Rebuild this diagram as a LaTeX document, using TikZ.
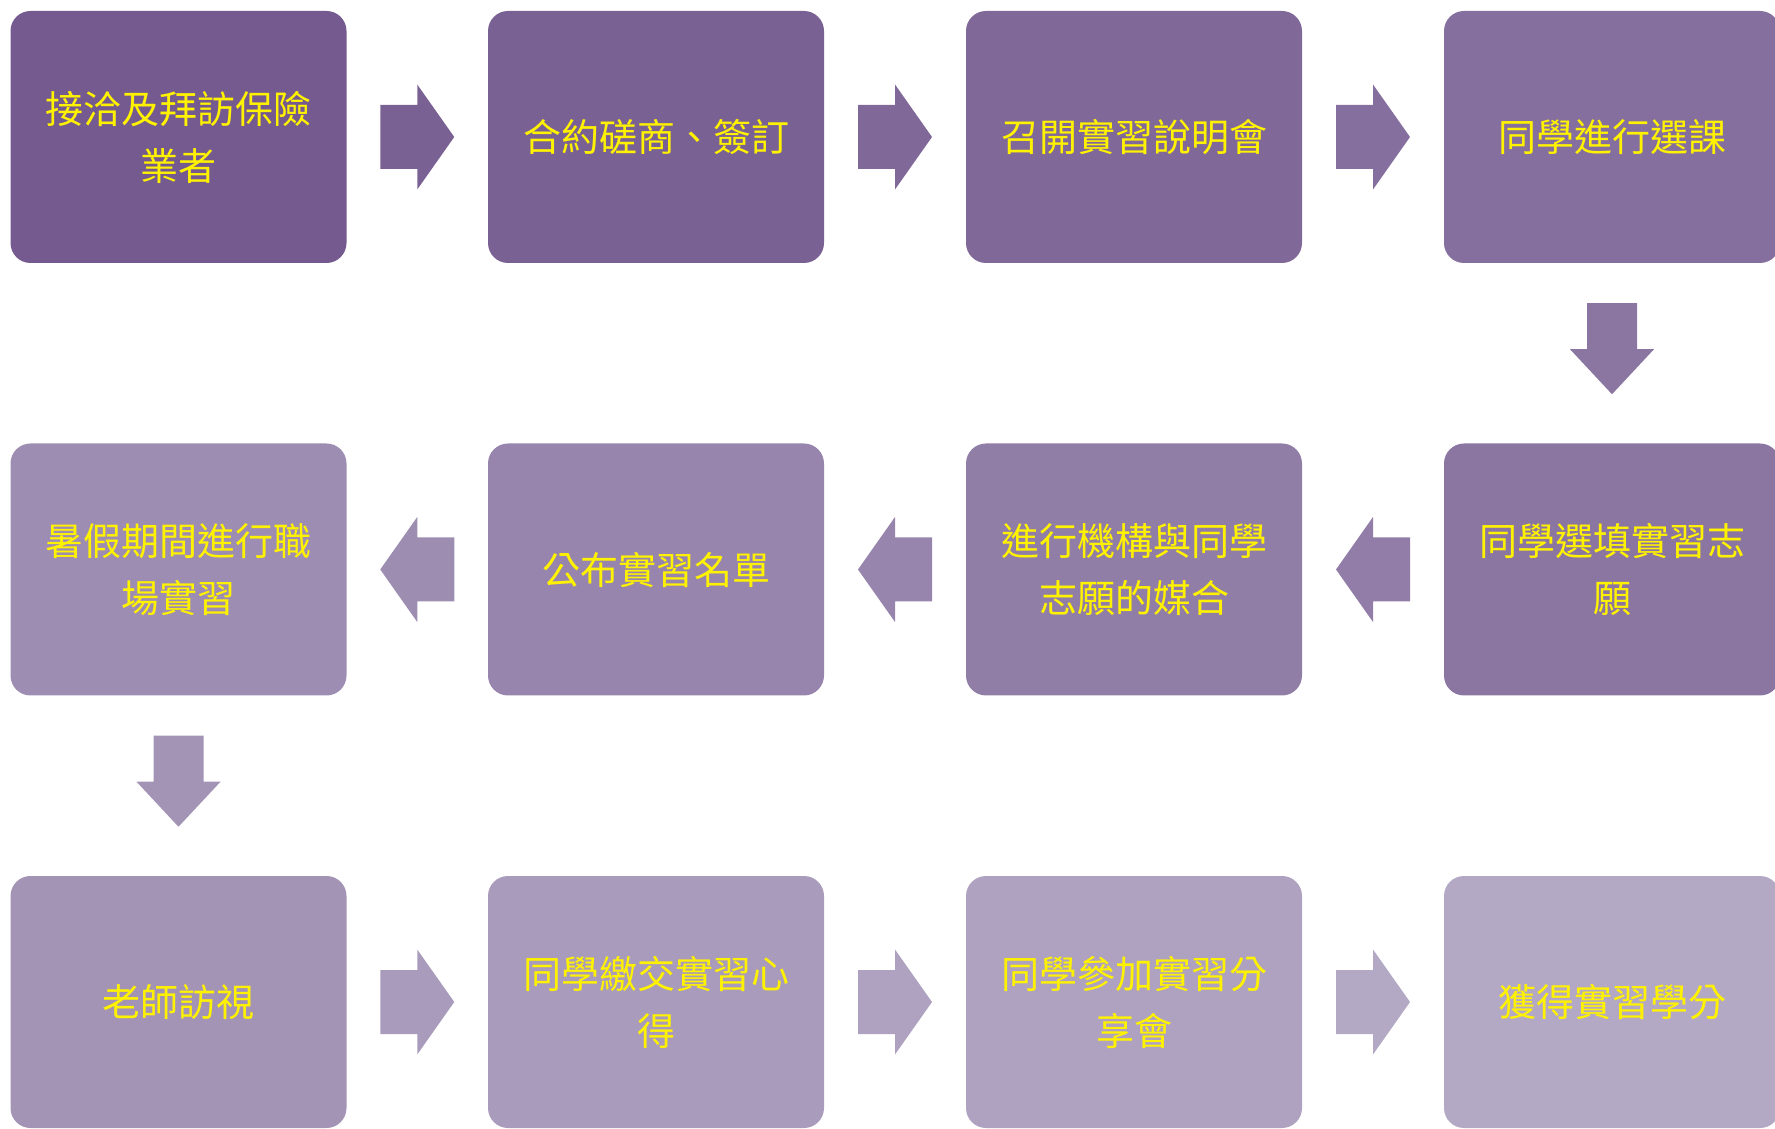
\documentclass[tikz,border=0pt]{standalone}
\usepackage{fontspec}
\newfontfamily\cjk{Noto Sans CJK TC}
\usetikzlibrary{calc}
\definecolor{cA}{HTML}{745A8F}
\definecolor{cB}{HTML}{B4A9C5}
\colorlet{c1}{cB!0!cA}
\colorlet{c2}{cB!9!cA}
\colorlet{c3}{cB!18!cA}
\colorlet{c4}{cB!27!cA}
\colorlet{c5}{cB!36!cA}
\colorlet{c6}{cB!45!cA}
\colorlet{c7}{cB!55!cA}
\colorlet{c8}{cB!64!cA}
\colorlet{c9}{cB!73!cA}
\colorlet{c10}{cB!82!cA}
\colorlet{c11}{cB!91!cA}
\colorlet{c12}{cB!100!cA}
\tikzset{
  stepbox/.style={rectangle, rounded corners=20pt, minimum width=336pt, minimum height=252pt,
    inner sep=0pt, text=yellow, align=center, font=\cjk\fontsize{38}{57}\selectfont},
}
\newcommand\rarrowfill[2]{%
  \fill[#2] ([shift={(-37,32)}]#1) -- ([shift={(0,32)}]#1) -- ([shift={(0,52.5)}]#1)
    -- ([shift={(37,0)}]#1) -- ([shift={(0,-52.5)}]#1) -- ([shift={(0,-32)}]#1)
    -- ([shift={(-37,-32)}]#1) -- cycle;}
\newcommand\larrowfill[2]{%
  \fill[#2] ([shift={(37,32)}]#1) -- ([shift={(0,32)}]#1) -- ([shift={(0,52.5)}]#1)
    -- ([shift={(-37,0)}]#1) -- ([shift={(0,-52.5)}]#1) -- ([shift={(0,-32)}]#1)
    -- ([shift={(37,-32)}]#1) -- cycle;}
\newcommand\darrowfill[2]{%
  \fill[#2] ([shift={(-25,50)}]#1) -- ([shift={(25,50)}]#1) -- ([shift={(25,4)}]#1)
    -- ([shift={(42,4)}]#1) -- ([shift={(0,-41)}]#1) -- ([shift={(-42,4)}]#1)
    -- ([shift={(-25,4)}]#1) -- cycle;}
\begin{document}
\begin{tikzpicture}[x=1pt,y=1pt]
\useasboundingbox (0,0) rectangle (1775,1128);
% row 1
\node[stepbox, fill=c1] (b1) at (178.5,991) {接洽及拜訪保險\\業者};
\node[stepbox, fill=c2] (b2) at (656,991) {合約磋商、簽訂};
\node[stepbox, fill=c3] (b3) at (1134,991) {召開實習說明會};
\node[stepbox, fill=c4] (b4) at (1612,991) {同學進行選課};
% row 2
\node[stepbox, fill=c5] (b5) at (1612,558.5) {同學選填實習志\\願};
\node[stepbox, fill=c6] (b6) at (1134,558.5) {進行機構與同學\\志願的媒合};
\node[stepbox, fill=c7] (b7) at (656,558.5) {公布實習名單};
\node[stepbox, fill=c8] (b8) at (178.5,558.5) {暑假期間進行職\\場實習};
% row 3
\node[stepbox, fill=c9] (b9) at (178.5,126) {老師訪視};
\node[stepbox, fill=c10] (b10) at (656,126) {同學繳交實習心\\得};
\node[stepbox, fill=c11] (b11) at (1134,126) {同學參加實習分\\享會};
\node[stepbox, fill=c12] (b12) at (1612,126) {獲得實習學分};
% arrow anchors
\coordinate (m12) at ($(b1.east)!0.5!(b2.west)$);
\coordinate (m23) at ($(b2.east)!0.5!(b3.west)$);
\coordinate (m34) at ($(b3.east)!0.5!(b4.west)$);
\coordinate (m45) at ($(b4.south)!0.5!(b5.north)$);
\coordinate (m56) at ($(b5.west)!0.5!(b6.east)$);
\coordinate (m67) at ($(b6.west)!0.5!(b7.east)$);
\coordinate (m78) at ($(b7.west)!0.5!(b8.east)$);
\coordinate (m89) at ($(b8.south)!0.5!(b9.north)$);
\coordinate (m910) at ($(b9.east)!0.5!(b10.west)$);
\coordinate (m1011) at ($(b10.east)!0.5!(b11.west)$);
\coordinate (m1112) at ($(b11.east)!0.5!(b12.west)$);
\rarrowfill{m12}{c2}
\rarrowfill{m23}{c3}
\rarrowfill{m34}{c4}
\darrowfill{m45}{c5}
\larrowfill{m56}{c6}
\larrowfill{m67}{c7}
\larrowfill{m78}{c8}
\darrowfill{m89}{c9}
\rarrowfill{m910}{c10}
\rarrowfill{m1011}{c11}
\rarrowfill{m1112}{c12}
\end{tikzpicture}
\end{document}
